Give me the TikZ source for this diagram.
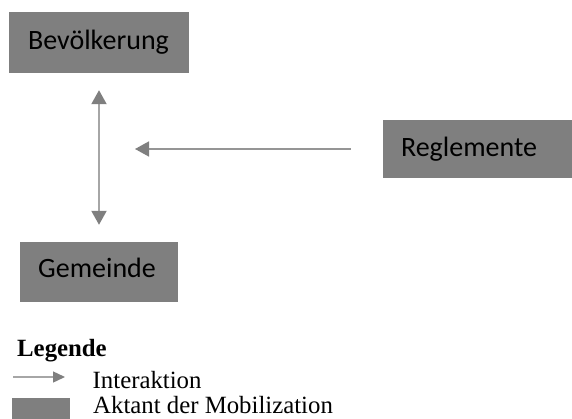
\documentclass[tikz,border=0pt]{standalone}
\usepackage{fontspec}
\setmainfont{Liberation Serif}
\newfontfamily\boxfont{Carlito}
\usetikzlibrary{arrows.meta}
\definecolor{actor}{HTML}{7F7F7F}
\definecolor{linkline}{HTML}{A6A6A6}
\definecolor{linkhead}{HTML}{7F7F7F}
\tikzset{
  actorbox/.style={fill=actor, draw=none, inner sep=0pt, font=\boxfont\fontsize{28}{30}\selectfont, text=black},
  link/.style={draw=linkline, line width=2pt,
    -{Triangle[length=14pt,width=15pt,color=linkhead]}},
  legtext/.style={anchor=base west, inner sep=0pt, font=\fontsize{24.8}{28}\selectfont}
}
\begin{document}
\begin{tikzpicture}[x=1pt,y=-1pt]
\useasboundingbox (0,0) rectangle (572,419);

% actors
\node[actorbox, minimum width=180pt, minimum height=61pt] (bev) at (99,42.5) {};
\node[actorbox, anchor=base] at (98.5,50) {Bevölkerung};
\node[actorbox, minimum width=158pt, minimum height=60pt] (gem) at (99,272) {};
\node[actorbox, anchor=base] at (97,277.5) {Gemeinde};
\node[actorbox, minimum width=189pt, minimum height=58pt] (reg) at (477.5,149) {};
\node[actorbox, anchor=base] at (469,156.5) {Reglemente};

% interactions
\coordinate (hx) at (135,149);
\draw[link, {Triangle[length=14pt,width=15pt,color=linkhead]}-{Triangle[length=14pt,width=15pt,color=linkhead]},
      shorten <=17pt, shorten >=17pt] (bev.south) -- (gem.north);
\draw[link, line width=1.6pt, draw=linkline!90!black, shorten <=32pt] (reg.west) -- (hx);

% legend
\node[anchor=base west, inner sep=0pt, font=\bfseries\fontsize{24.8}{28}\selectfont] (legtitle) at (17,356) {Legende};
\coordinate (la) at (13,377);
\coordinate (lb) at (65,377);
\draw[draw=linkline, line width=1.4pt, -{Triangle[length=12pt,width=11pt,color=linkhead]}] (la) -- (lb);
\node[legtext] (leginter) at (92.5,388) {Interaktion};
\node[fill=actor, inner sep=0pt, minimum width=58pt, minimum height=21pt] (legbox) at (41,408.5) {};
\node[legtext] (legactor) at (93,413) {Aktant der Mobilization};
\end{tikzpicture}
\end{document}
